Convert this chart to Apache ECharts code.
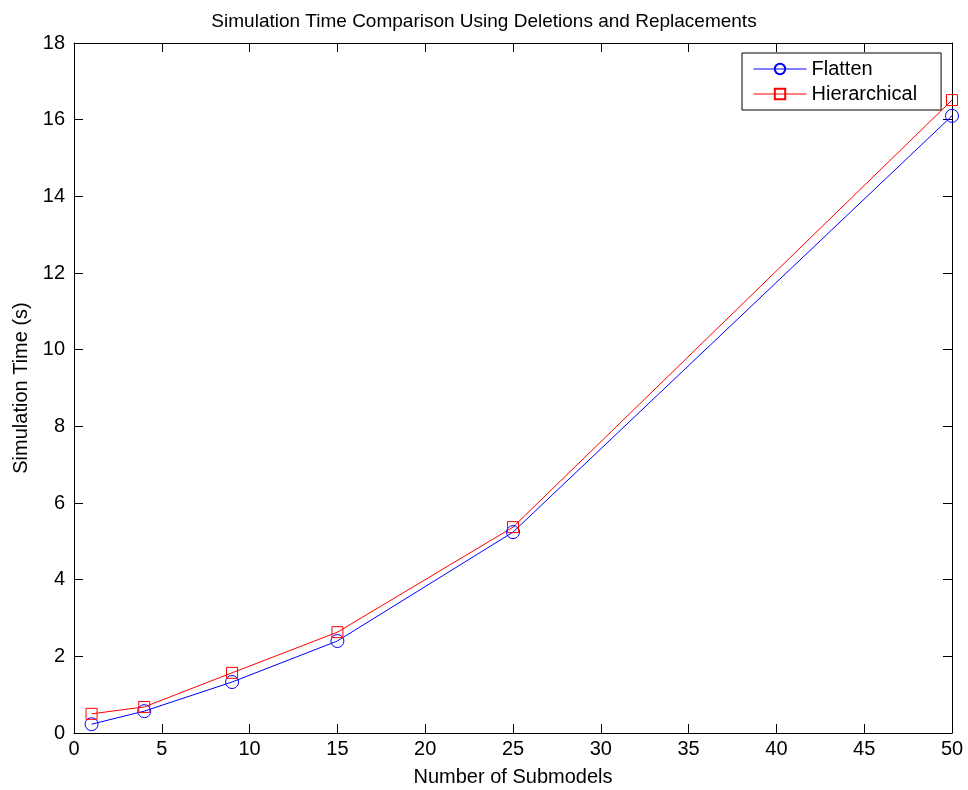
<!DOCTYPE html>
<html>
<head>
<meta charset="utf-8">
<script src="https://cdn.jsdelivr.net/npm/echarts@6/dist/echarts.min.js"></script>
<style>
  html, body { margin: 0; padding: 0; background: #fff; }
  #app { width: 968px; height: 790px; }
</style>
</head>
<body>
<div id="app"></div>
<script>
(function() {
  // 子模型数量
  const submodels = [1, 4, 9, 15, 25, 50];
  // 仿真时间 (s)
  const flatten = [0.23, 0.57, 1.33, 2.4, 5.24, 16.1];
  const hierarchical = [0.5, 0.68, 1.57, 2.63, 5.37, 16.51];

  const font = "Liberation Sans, Arial, sans-serif";

  function pairs(xs, ys) {
    return xs.map((x, i) => [x, ys[i]]);
  }

  const boxAxis = {
    axisLine: { show: true, onZero: false, lineStyle: { color: "#000", width: 1 } },
    axisTick: { show: true, inside: true, length: 9, lineStyle: { color: "#000" } },
    splitLine: { show: false }
  };

  const myChart = echarts.init(document.getElementById("app"));
  const option = {
    animation: false,
    backgroundColor: "#fff",
    title: {
      text: "Simulation Time Comparison Using Deletions and Replacements",
      left: "center",
      top: 7,
      textStyle: { fontFamily: font, fontSize: 19, fontWeight: "normal", color: "#000" }
    },
    grid: { left: 74, top: 43, right: 16, bottom: 57, containLabel: false, outerBoundsMode: "none" },
    legend: {
      left: 742,
      top: 53,
      orient: "vertical",
      backgroundColor: "#fff",
      borderColor: "#000",
      borderWidth: 1,
      borderRadius: 0,
      padding: [6, 24, 6, 11],
      itemWidth: 53,
      itemHeight: 13,
      itemGap: 5,
      lineStyle: { width: 1 },
      textStyle: { fontFamily: font, fontSize: 20, color: "#000" },
      data: ["Flatten", "Hierarchical"]
    },
    xAxis: [
      Object.assign({}, boxAxis, {
        type: "value",
        min: 0,
        max: 50,
        interval: 5,
        name: "Number of Submodels",
        nameLocation: "middle",
        nameGap: 34,
        nameTextStyle: { fontFamily: font, fontSize: 20, color: "#000" },
        axisLabel: { fontFamily: font, fontSize: 20, color: "#000", margin: 6 }
      }),
      Object.assign({}, boxAxis, {
        type: "value",
        position: "top",
        min: 0,
        max: 50,
        interval: 5,
        axisLabel: { show: false }
      })
    ],
    yAxis: [
      Object.assign({}, boxAxis, {
        type: "value",
        min: 0,
        max: 18,
        interval: 2,
        name: "Simulation Time (s)",
        nameLocation: "middle",
        nameGap: 43,
        nameTextStyle: { fontFamily: font, fontSize: 20, color: "#000" },
        axisLabel: { fontFamily: font, fontSize: 20, color: "#000", margin: 9 }
      }),
      Object.assign({}, boxAxis, {
        type: "value",
        position: "right",
        min: 0,
        max: 18,
        interval: 2,
        axisLabel: { show: false }
      })
    ],
    series: [
      {
        name: "Flatten",
        type: "line",
        data: pairs(submodels, flatten),
        symbol: "circle",
        symbolSize: 13,
        showAllSymbol: true,
        color: "#0000ff",
        lineStyle: { color: "#0000ff", width: 1 },
        itemStyle: { color: "rgba(0,0,0,0)", borderColor: "#0000ff", borderWidth: 1 }
      },
      {
        name: "Hierarchical",
        type: "line",
        data: pairs(submodels, hierarchical),
        symbol: "rect",
        symbolSize: 11,
        showAllSymbol: true,
        color: "#ff0000",
        lineStyle: { color: "#ff0000", width: 1 },
        itemStyle: { color: "rgba(0,0,0,0)", borderColor: "#ff0000", borderWidth: 1 }
      }
    ]
  };
  myChart.setOption(option);
})();
</script>
</body>
</html>
